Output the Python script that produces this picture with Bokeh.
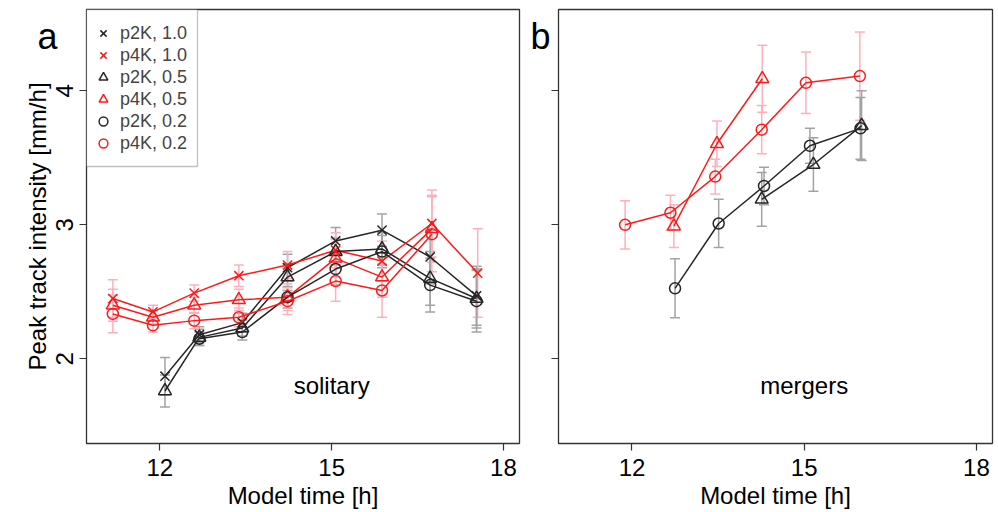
from bokeh.plotting import figure
from bokeh.layouts import row
from bokeh.models import (Range1d, FixedTicker, Whisker, TeeHead, ColumnDataSource,
                          Legend, LegendItem, Label, BoxAnnotation)
from bokeh.embed import file_html
from bokeh.resources import INLINE
from bokeh.core.properties import value

# ---------------- data: panel a (solitary) ----------------
sol_t_p4k = [11.18, 11.88, 12.60, 13.38, 14.23, 15.07, 15.88, 16.75, 17.55]
sol_t_p2k = [12.09, 12.69, 13.44, 14.23, 15.07, 15.88, 16.72, 17.53]

sol_p2k_10 = [1.87, 2.18, 2.27, 2.68, 2.88, 2.96, 2.76, 2.47]
sol_p2k_10_err = [0.14, 0.06, 0.07, 0.10, 0.10, 0.12, 0.20, 0.22]
sol_p4k_10 = [2.45, 2.35, 2.49, 2.62, 2.70, 2.81, 2.73, 3.01, 2.64]
sol_p4k_10_err = [0.14, 0.05, 0.06, 0.08, 0.10, 0.13, 0.15, 0.25, 0.33]
sol_p2k_05 = [1.76, 2.16, 2.23, 2.61, 2.80, 2.82, 2.60, 2.45]
sol_p2k_05_err = [0.12, 0.06, 0.06, 0.10, 0.10, 0.12, 0.20, 0.22]
sol_p4k_05 = [2.40, 2.31, 2.40, 2.44, 2.46, 2.75, 2.61, 2.97]
sol_p4k_05_err = [0.12, 0.05, 0.06, 0.08, 0.10, 0.14, 0.15, 0.25]
sol_p2k_02 = [2.15, 2.20, 2.46, 2.67, 2.80, 2.55, 2.43]
sol_p2k_02_err = [0.05, 0.06, 0.08, 0.12, 0.12, 0.20, 0.23]
sol_p4k_02 = [2.335, 2.25, 2.285, 2.31, 2.43, 2.58, 2.51, 2.93]
sol_p4k_02_err = [0.14, 0.05, 0.06, 0.07, 0.10, 0.15, 0.20, 0.28]

# ---------------- data: panel b (mergers) ----------------
mer_t_p4k_02 = [11.88, 12.67, 13.45, 14.26, 15.03, 15.97]
mer_p4k_02 = [3.00, 3.09, 3.36, 3.71, 4.06, 4.11]
mer_p4k_02_err = [0.18, 0.13, 0.13, 0.18, 0.23, 0.33]
mer_t_p4k_05 = [12.73, 13.48, 14.27]
mer_p4k_05 = [2.99, 3.605, 4.09]
mer_p4k_05_err = [0.16, 0.17, 0.25]
mer_t_p2k_02 = [12.75, 13.51, 14.30, 15.10, 15.98]
mer_p2k_02 = [2.526, 3.01, 3.29, 3.59, 3.72]
mer_p2k_02_err = [0.22, 0.18, 0.14, 0.13, 0.23]
mer_t_p2k_05 = [14.26, 15.16, 16.00]
mer_p2k_05 = [3.19, 3.45, 3.74]
mer_p2k_05_err = [0.20, 0.20, 0.26]

x_ticks = [12, 15, 18]
y_ticks = [2, 3, 4]
legend_labels = ["p2K, 1.0", "p4K, 1.0", "p2K, 0.5", "p4K, 0.5", "p2K, 0.2", "p4K, 0.2"]

# ---------------- styling ----------------
FONT = "Liberation Sans"
RED = "#ff1a1a"
BLACK = "#262626"
PINK = "#ffb0bc"
GREY = "#a3a3a3"
X_RANGE = (10.72, 18.28)
Y_RANGE = (1.368, 4.607)
MARK = {"x": 13, "triangle": 13, "circle": 11}


def make_fig(left_border, right_border, show_ylabels):
    p = figure(output_backend="svg", toolbar_location=None,
               x_range=Range1d(*X_RANGE), y_range=Range1d(*Y_RANGE),
               frame_width=433 if show_ylabels else 434, frame_height=434,
               min_border_left=left_border, min_border_right=right_border,
               min_border_top=9, min_border_bottom=69,
               background_fill_color="white", border_fill_color="white")
    p.grid.visible = False
    p.outline_line_color = "#333333"
    p.outline_line_width = 1.3
    for ax in (p.xaxis[0], p.yaxis[0]):
        ax.axis_line_color = None
        ax.major_tick_line_color = "#333333"
        ax.major_tick_line_width = 1.2
        ax.major_tick_out = 7
        ax.major_tick_in = 0
        ax.minor_tick_line_color = None
        ax.major_label_text_font = FONT
        ax.major_label_text_font_size = "24px"
        ax.major_label_text_color = "black"
        ax.axis_label_text_font = FONT
        ax.axis_label_text_font_size = "24px"
        ax.axis_label_text_font_style = "normal"
        ax.axis_label_text_color = "black"
    p.xaxis.ticker = FixedTicker(ticks=x_ticks)
    p.yaxis.ticker = FixedTicker(ticks=y_ticks)
    p.xaxis.axis_label = "Model time [h]"
    p.xaxis.major_label_standoff = 8
    p.xaxis.axis_label_standoff = 3
    if show_ylabels:
        p.yaxis.axis_label = "Peak track intensity [mm/h]"
        p.yaxis.major_label_orientation = "vertical"
        p.yaxis.major_label_standoff = 6
        p.yaxis.axis_label_standoff = 3
    else:
        p.yaxis.major_label_overrides = {t: "" for t in y_ticks}
        p.yaxis.major_label_standoff = 0
    return p


def series(p, t, v, err, color, err_color, marker):
    lower = [a - e for a, e in zip(v, err)]
    upper = [a + e for a, e in zip(v, err)]
    src = ColumnDataSource(dict(x=t, y=v, lower=lower, upper=upper))
    w = Whisker(source=src, base="x", upper="upper", lower="lower",
                line_color=err_color, line_width=1.5, level="underlay",
                upper_head=TeeHead(size=10, line_color=err_color, line_width=1.5),
                lower_head=TeeHead(size=10, line_color=err_color, line_width=1.5))
    p.add_layout(w)
    p.line("x", "y", source=src, line_color=color, line_width=1.5)
    r = p.scatter("x", "y", source=src, marker=marker, size=MARK[marker],
                  line_color=color, fill_color=None, line_width=1.5)
    return r


# ---------------- panel a ----------------
p1 = make_fig(86, 32, True)
r_p2k_10 = series(p1, sol_t_p2k, sol_p2k_10, sol_p2k_10_err, BLACK, GREY, "x")
r_p4k_10 = series(p1, sol_t_p4k, sol_p4k_10, sol_p4k_10_err, RED, PINK, "x")
r_p2k_05 = series(p1, sol_t_p2k, sol_p2k_05, sol_p2k_05_err, BLACK, GREY, "triangle")
r_p4k_05 = series(p1, sol_t_p4k[:8], sol_p4k_05, sol_p4k_05_err, RED, PINK, "triangle")
r_p2k_02 = series(p1, sol_t_p2k[1:], sol_p2k_02, sol_p2k_02_err, BLACK, GREY, "circle")
r_p4k_02 = series(p1, sol_t_p4k[:8], sol_p4k_02, sol_p4k_02_err, RED, PINK, "circle")

p1.text(x=[15.0], y=[1.80], text=["solitary"], text_font=value(FONT),
        text_font_size="24px", text_align="center", text_baseline="middle",
        text_color="black")

# legend box (decoration) in the top-left corner of the frame
px_x = 433 / (X_RANGE[1] - X_RANGE[0])
px_y = 434 / (Y_RANGE[1] - Y_RANGE[0])
p1.add_layout(BoxAnnotation(left=X_RANGE[0], right=X_RANGE[0] + 111 / px_x,
                            top=Y_RANGE[1], bottom=Y_RANGE[1] - 157 / px_y,
                            fill_color="white", fill_alpha=1.0,
                            line_color="#333333", line_width=1.3, level="underlay"))

leg_renderers = [r_p2k_10, r_p4k_10, r_p2k_05, r_p4k_05, r_p2k_02, r_p4k_02]
legend = Legend(items=[LegendItem(label=lab, renderers=[r])
                       for lab, r in zip(legend_labels, leg_renderers)],
                location=(5, 289), margin=0, padding=0, spacing=0,
                glyph_width=24, glyph_height=22, label_height=22, label_standoff=5,
                label_text_font=FONT, label_text_font_size="18px",
                border_line_color=None, background_fill_alpha=0)
p1.add_layout(legend)

# panel letters (drawn in canvas pixels from side panels so they are not clipped)
p1.add_layout(Label(x=47, y=36, x_units="canvas", y_units="canvas", text="a",
                    text_font=FONT, text_font_size="36px",
                    text_align="center", text_baseline="middle", text_color="black"),
              "left")
p1.add_layout(Label(x=540, y=36, x_units="canvas", y_units="canvas", text="b",
                    text_font=FONT, text_font_size="36px",
                    text_align="center", text_baseline="middle", text_color="black"),
              "right")

# ---------------- panel b ----------------
p2 = make_fig(7, 6, False)
series(p2, mer_t_p4k_02, mer_p4k_02, mer_p4k_02_err, RED, PINK, "circle")
series(p2, mer_t_p4k_05, mer_p4k_05, mer_p4k_05_err, RED, PINK, "triangle")
series(p2, mer_t_p2k_02, mer_p2k_02, mer_p2k_02_err, BLACK, GREY, "circle")
series(p2, mer_t_p2k_05, mer_p2k_05, mer_p2k_05_err, BLACK, GREY, "triangle")

p2.text(x=[15.0], y=[1.80], text=["mergers"], text_font=value(FONT),
        text_font_size="24px", text_align="center", text_baseline="middle",
        text_color="black")

layout = row(p1, p2, spacing=0)
open("out.html", "w").write(file_html(layout, INLINE))
